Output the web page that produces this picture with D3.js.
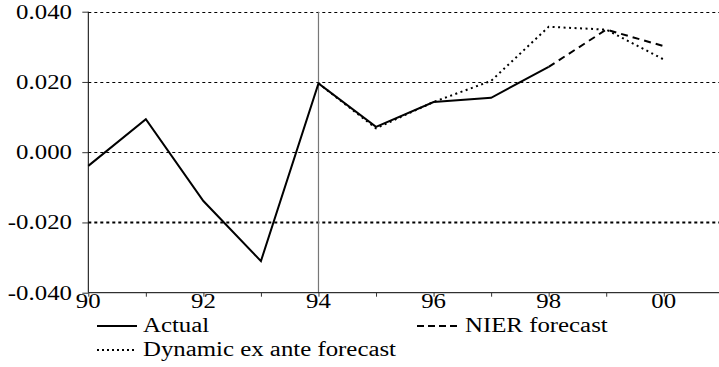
<!DOCTYPE html>
<html><head><meta charset="utf-8">
<script src="https://cdn.jsdelivr.net/npm/d3@7"></script>
<style>html,body{margin:0;padding:0;background:#fff;}svg{display:block;}</style>
</head><body>
<svg id="c" width="719" height="367"></svg>
<script>
const actualYears = [90, 91, 92, 93, 94, 95, 96, 97, 98];
const actualValues = [-0.0039, 0.0094, -0.0139, -0.0310, 0.0196, 0.0072, 0.0143, 0.0155, 0.0243];
const dynamicYears = [94, 95, 96, 97, 98, 99, 100];
const dynamicValues = [0.0196, 0.0068, 0.0143, 0.0203, 0.0357, 0.0349, 0.0264];
const nierYears = [98, 99, 100];
const nierValues = [0.0243, 0.0349, 0.0302];
const yTicks = [-0.04, -0.02, 0.0, 0.02, 0.04];
const yTickLabels = ["-0.040", "-0.020", "0.000", "0.020", "0.040"];
const xTicks = [90, 91, 92, 93, 94, 95, 96, 97, 98, 99, 100];
const xTickLabels = {90: "90", 92: "92", 94: "94", 96: "96", 98: "98", 100: "00"};
const legendLabels = ["Actual", "NIER forecast", "Dynamic ex ante forecast"];

const svg = d3.select("#c");
const x = d3.scaleLinear().domain([90, 101]).range([88.3, 721.3]);
const y = d3.scaleLinear().domain([-0.04, 0.04]).range([292.7, 11.7]);
const FONT = "Liberation Serif";
const FS = 20;

function measure(text) {
  const p = svg.append("text").attr("font-family", FONT).attr("font-size", FS).text(text);
  const w = p.node().getComputedTextLength();
  p.remove();
  return w;
}
const SX = 253 / measure(legendLabels[2]);

function label(g, tx, ty, text, anchor) {
  const w = measure(text) * SX;
  const x0 = anchor === "end" ? tx - w : anchor === "middle" ? tx - w / 2 : tx;
  g.append("text")
    .attr("x", x0).attr("y", ty)
    .attr("font-family", FONT)
    .attr("font-size", FS)
    .attr("textLength", w)
    .attr("lengthAdjust", "spacingAndGlyphs")
    .attr("fill", "#000")
    .text(text);
}

// gridlines
svg.append("g").selectAll("line").data(yTicks.filter(v => v !== -0.04)).join("line")
  .attr("x1", x(90)).attr("x2", 719)
  .attr("y1", d => Math.round(y(d)) + 0.5).attr("y2", d => Math.round(y(d)) + 0.5)
  .attr("stroke", "#000")
  .attr("stroke-width", d => d === -0.02 ? 2 : 1)
  .attr("stroke-dasharray", "3,3");

// vertical line at 94
svg.append("line")
  .attr("x1", x(94)).attr("x2", x(94))
  .attr("y1", y(0.04)).attr("y2", y(-0.04))
  .attr("stroke", "#777").attr("stroke-width", 1.2);

// axes
const yAxis = d3.axisLeft(y).tickValues(yTicks).tickSize(6).tickFormat("");
const gy = svg.append("g").attr("transform", `translate(${x(90)},0)`).call(yAxis);
gy.select(".domain").attr("d", `M0,${y(0.04)}V${y(-0.04)}`).attr("stroke", "#000");
gy.selectAll(".tick line").attr("stroke", "#333");

const xAxis = d3.axisBottom(x).tickValues(xTicks).tickSize(4).tickFormat("");
const gx = svg.append("g").attr("transform", `translate(0,${y(-0.04)})`).call(xAxis);
gx.select(".domain").attr("d", `M${x(90)},0H719`).attr("stroke", "#000");
gx.selectAll(".tick line").attr("stroke", "#333");

const lab = svg.append("g");
yTicks.forEach((v, i) => label(lab, 72, y(v) + 7, yTickLabels[i], "end"));
xTicks.forEach(v => { if (xTickLabels[v]) label(lab, x(v), 308, xTickLabels[v], "middle"); });

// series
const line = d3.line().x(d => x(d[0])).y(d => y(d[1]));
svg.append("path").datum(dynamicYears.map((t, i) => [t, dynamicValues[i]]))
  .attr("d", line).attr("fill", "none").attr("stroke", "#000")
  .attr("stroke-width", 2).attr("stroke-dasharray", "2,3.5");
svg.append("path").datum(nierYears.map((t, i) => [t, nierValues[i]]))
  .attr("d", line).attr("fill", "none").attr("stroke", "#000")
  .attr("stroke-width", 2).attr("stroke-dasharray", "7,5");
svg.append("path").datum(actualYears.map((t, i) => [t, actualValues[i]]))
  .attr("d", line).attr("fill", "none").attr("stroke", "#000")
  .attr("stroke-width", 2).attr("stroke-linejoin", "miter");

// legend
const lg = svg.append("g");
const leg = [
  {lx: 97, ly: 326, dash: null, w: 2, tx: 143, ty: 332, t: legendLabels[0]},
  {lx: 417, ly: 326, dash: "7,4", w: 2, tx: 465, ty: 332, t: legendLabels[1]},
  {lx: 97, ly: 350, dash: "2,3", w: 1.8, tx: 143, ty: 356, t: legendLabels[2]}
];
leg.forEach(d => {
  const l = lg.append("line").attr("x1", d.lx).attr("x2", d.lx + 40)
    .attr("y1", d.ly).attr("y2", d.ly).attr("stroke", "#000").attr("stroke-width", d.w);
  if (d.dash) l.attr("stroke-dasharray", d.dash);
  label(lg, d.tx, d.ty, d.t, "start");
});
</script>
</body></html>
